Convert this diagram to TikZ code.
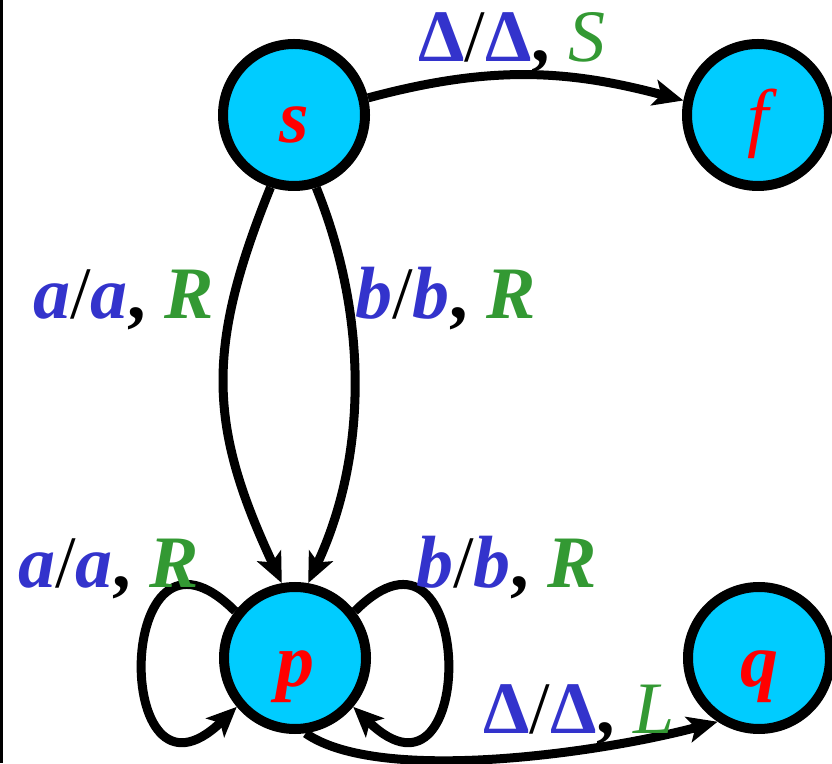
\documentclass[tikz,border=0pt]{standalone}
\usepackage{fontspec}
\setmainfont{Liberation Serif}
\usetikzlibrary{arrows.meta}
\definecolor{nodecyan}{RGB}{0,204,255}
\definecolor{lblblue}{RGB}{51,51,204}
\definecolor{lblgreen}{RGB}{51,153,51}
\definecolor{lblred}{RGB}{255,0,0}
\newcommand{\bi}[1]{{\bfseries\itshape #1}}
\newcommand{\cm}{{\bfseries ,}}
\newcommand{\dlt}{\textcolor{lblblue}{\bfseries Δ}}
\begin{document}
\begin{tikzpicture}[x=1pt,y=1pt,
  state/.style={circle,draw=black,line width=10pt,fill=nodecyan,minimum size=142pt,inner sep=0pt,
    text=lblred,font=\fontsize{76}{80}\selectfont,text height=56pt,text depth=0pt},
  edge/.style={line width=9pt,-{Stealth[length=30pt,width=26pt,inset=7pt]}},
  lbl/.style={anchor=base west,inner sep=0pt,font=\fontsize{74}{80}\selectfont}]
\useasboundingbox (0,0) rectangle (832,763);
\fill[black] (0,0) rectangle (3,763);

\node[state] (s) at (294,648) {\bi{s}};
\node[state] (f) at (758,648) {\itshape f};
\node[state] (p) at (295,105) {\bi{p}};
\node[state] (q) at (759,105) {\bi{q}};

\draw[edge] (s.13) to[out=15,in=165] (f.169);
\draw[edge] (s.252) .. controls +(248:174pt) and +(115:174pt) .. (p.100);
\draw[edge] (s.287) .. controls +(292:140pt) and +(65:140pt) .. (p.80);
\draw[edge] (p.142) .. controls +(135:172pt) and +(224:175pt) .. (p.220);
\draw[edge] (p.38) .. controls +(45:172pt) and +(-44:175pt) .. (p.-40);
\draw[edge] (p.-82) .. controls +(-35:90pt) and +(195:120pt) .. (q.237);

\node[lbl] (l1) at (418,701) {\dlt/\dlt\cm{} \textcolor{lblgreen}{\itshape S}};
\node[lbl] (l2) at (33,444) {\textcolor{lblblue}{\bi{a}}/\textcolor{lblblue}{\bi{a}}\cm{} \textcolor{lblgreen}{\bi{R}}};
\node[lbl] (l3) at (355,444) {\textcolor{lblblue}{\bi{b}}/\textcolor{lblblue}{\bi{b}}\cm{} \textcolor{lblgreen}{\bi{R}}};
\node[lbl] (l4) at (18,175) {\textcolor{lblblue}{\bi{a}}/\textcolor{lblblue}{\bi{a}}\cm{} \textcolor{lblgreen}{\bi{R}}};
\node[lbl] (l5) at (416,175) {\textcolor{lblblue}{\bi{b}}/\textcolor{lblblue}{\bi{b}}\cm{} \textcolor{lblgreen}{\bi{R}}};
\node[lbl] (l6) at (483,30) {\dlt/\dlt\cm{} \textcolor{lblgreen}{\itshape L}};
\end{tikzpicture}
\end{document}
